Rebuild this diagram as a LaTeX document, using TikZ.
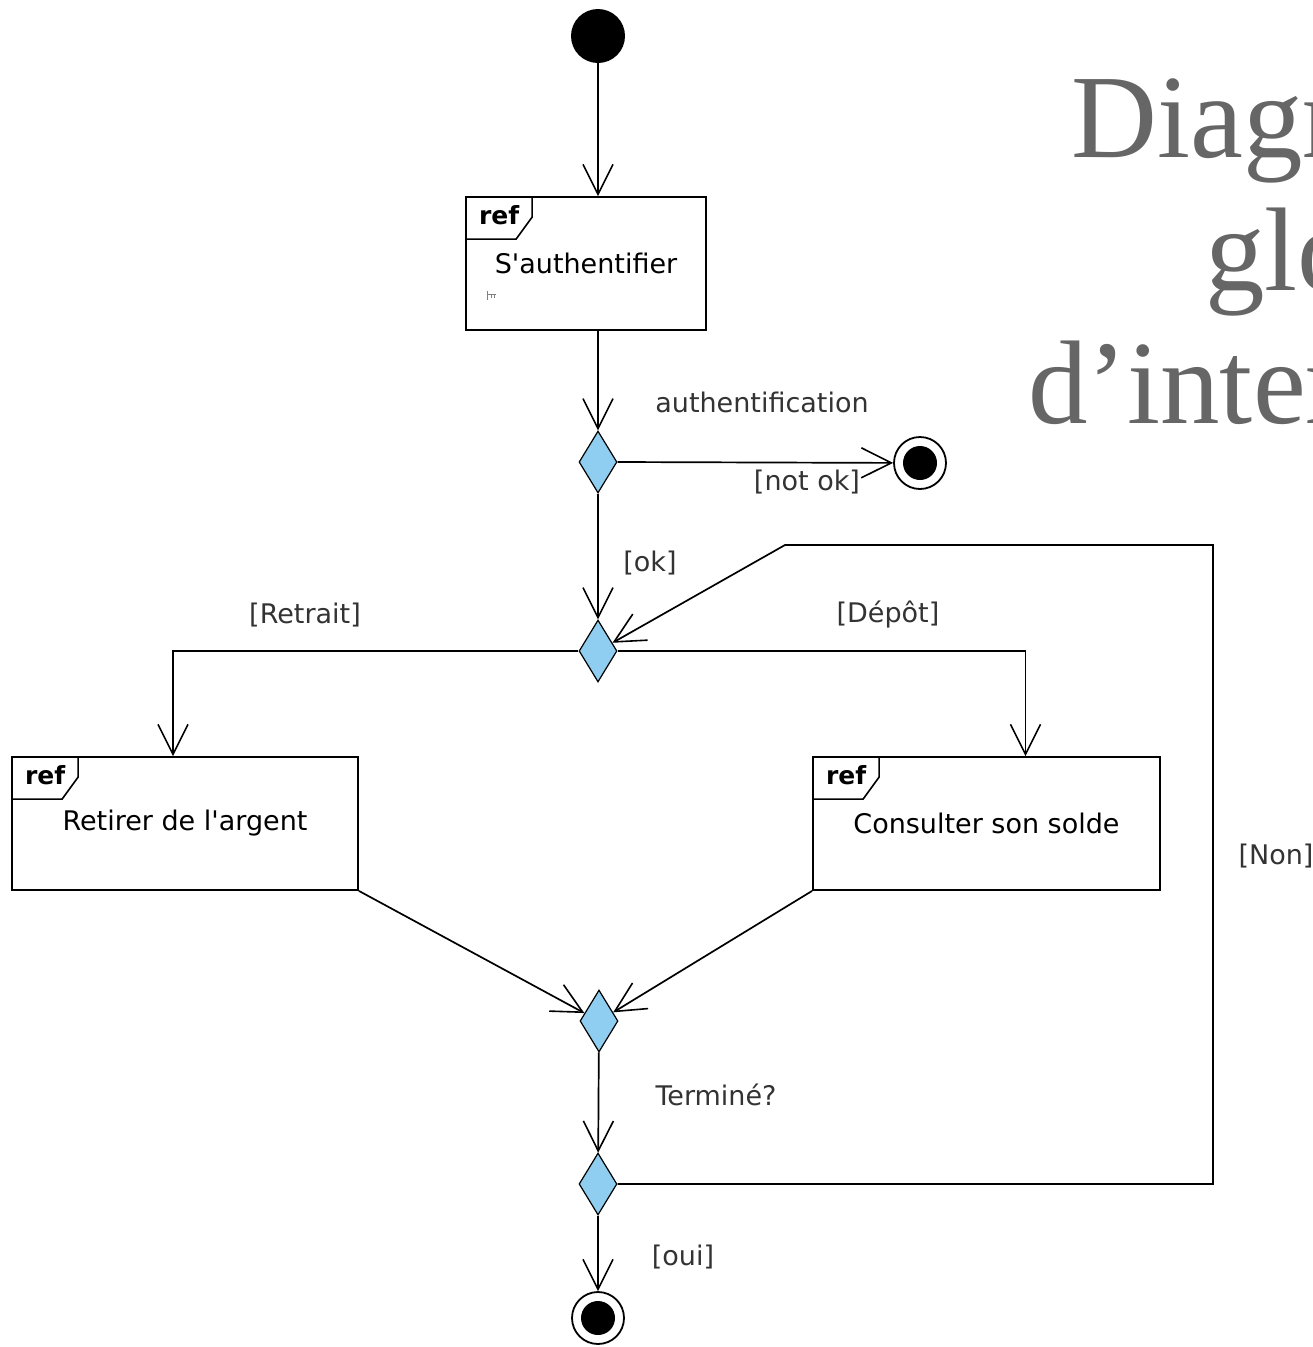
\documentclass[tikz,border=0pt]{standalone}
\usepackage{fontspec}
\usepackage{tikz}
\usetikzlibrary{shapes.geometric,arrows.meta}
\newfontfamily\umlfont{DejaVu Sans}
\newfontfamily\titlefont{Liberation Serif}
\definecolor{decisionblue}{RGB}{143,206,240}

\begin{document}
\begin{tikzpicture}[x=1pt, y=-1pt]
    \tikzstyle{action} = [rectangle, draw, line width=1.8pt, inner sep=0pt, minimum height=133pt, font=\umlfont\fontsize{27}{32}\selectfont]
    \tikzstyle{reftag} = [inner sep=0pt, font=\umlfont\bfseries\fontsize{25}{30}\selectfont]
    \tikzstyle{decision} = [diamond, draw, fill=decisionblue, line width=1.2pt, inner sep=0pt, minimum width=38pt, minimum height=62pt]
    \tikzstyle{startnode} = [circle, fill=black, inner sep=0pt, minimum size=54pt]
    \tikzstyle{endnode} = [circle, draw, fill=white, line width=1.8pt, inner sep=0pt, minimum size=52pt]
    \tikzstyle{flow} = [line width=1.7pt, -{Straight Barb[length=30pt, width=30pt, line width=1.6pt]}]
    \tikzstyle{guard} = [inner sep=0pt, text=black!80, font=\umlfont\fontsize{27}{32}\selectfont]
    \tikzstyle{title} = [anchor=base west, inner sep=0pt, text=black!60, font=\titlefont\fontsize{119}{125}\selectfont]
    \useasboundingbox (0,0) rectangle (1313,1347);

    % title, cut by the right edge
    \node[title] (t1) at (1071,157) {Diagr};
    \node[title] (t2) at (1205,290) {glo};
    \node[title] (t3) at (1028,423) {d’inter};

    % nodes
    \node[startnode] (init) at (598,36) {};
    \node[action, minimum width=240pt] (auth) at (586,263.5) {S'authentifier};
    \node[decision] (d1) at (598,462) {};
    \node[endnode] (f1) at (920,463) {};
    \node[decision] (d2) at (598,651) {};
    \node[action, minimum width=346pt] (retrait) at (185,823.5) {Retirer de l'argent};
    \node[action, minimum width=347pt] (solde) at (986.5,823.5) {Consulter son solde};
    \node[decision] (d3) at (599,1021) {};
    \node[decision] (d4) at (598,1184) {};
    \node[endnode] (f2) at (598,1318) {};
    \coordinate (loopr) at (1213,545);
    \coordinate (loopl) at (785,545);
    \foreach \f in {f1, f2} \fill (\f.center) circle (17pt);

    % ref tags
    \foreach \b in {auth, retrait, solde} {
        \draw[line width=1.6pt] (\b.north west) ++(67,0) -- ++(0,21) -- ++(-16,22) -- ++(-51,0);
        \node[reftag] at ([shift={(34,19)}]\b.north west) {ref};
    }
    \draw[black!50, line width=0.8pt] (487,291) -- (487,300) (487,294) -- (496,294) (491,294) -- (491,298) (494,294) -- (494,298);

    % flows
    \draw[flow] (init) -- (init |- auth.north);
    \draw[flow] (auth.south -| d1) -- (d1);
    \draw[flow] (d1.east) -- (f1);
    \draw[flow] (d1) -- (d2);
    \draw[flow] (d2.west) -| ([xshift=-12pt]retrait.north);
    \draw[flow] (d2.east) -| ([xshift=39pt]solde.north);
    \draw[flow] (retrait.south east) -- (d3);
    \draw[flow] (solde.south west) -- (d3);
    \draw[flow] (d3) -- (d4);
    \draw[flow] (d4) -- (f2);
    \draw[flow] (d4.east) -| (loopr) -- (loopl) -- (d2);

    % guards
    \node[guard] (g1) at (762,402) {authentification};
    \node[guard] (g2) at (807,482) {[not ok]};
    \node[guard] (g3) at (650,563) {[ok]};
    \node[guard] (g4) at (305,615) {[Retrait]};
    \node[guard] (g5) at (888,615) {[Dépôt]};
    \node[guard] (g6) at (716,1095) {Terminé?};
    \node[guard] (g7) at (683,1257) {[oui]};
    \node[guard] (g8) at (1276,856) {[Non]};
\end{tikzpicture}
\end{document}
